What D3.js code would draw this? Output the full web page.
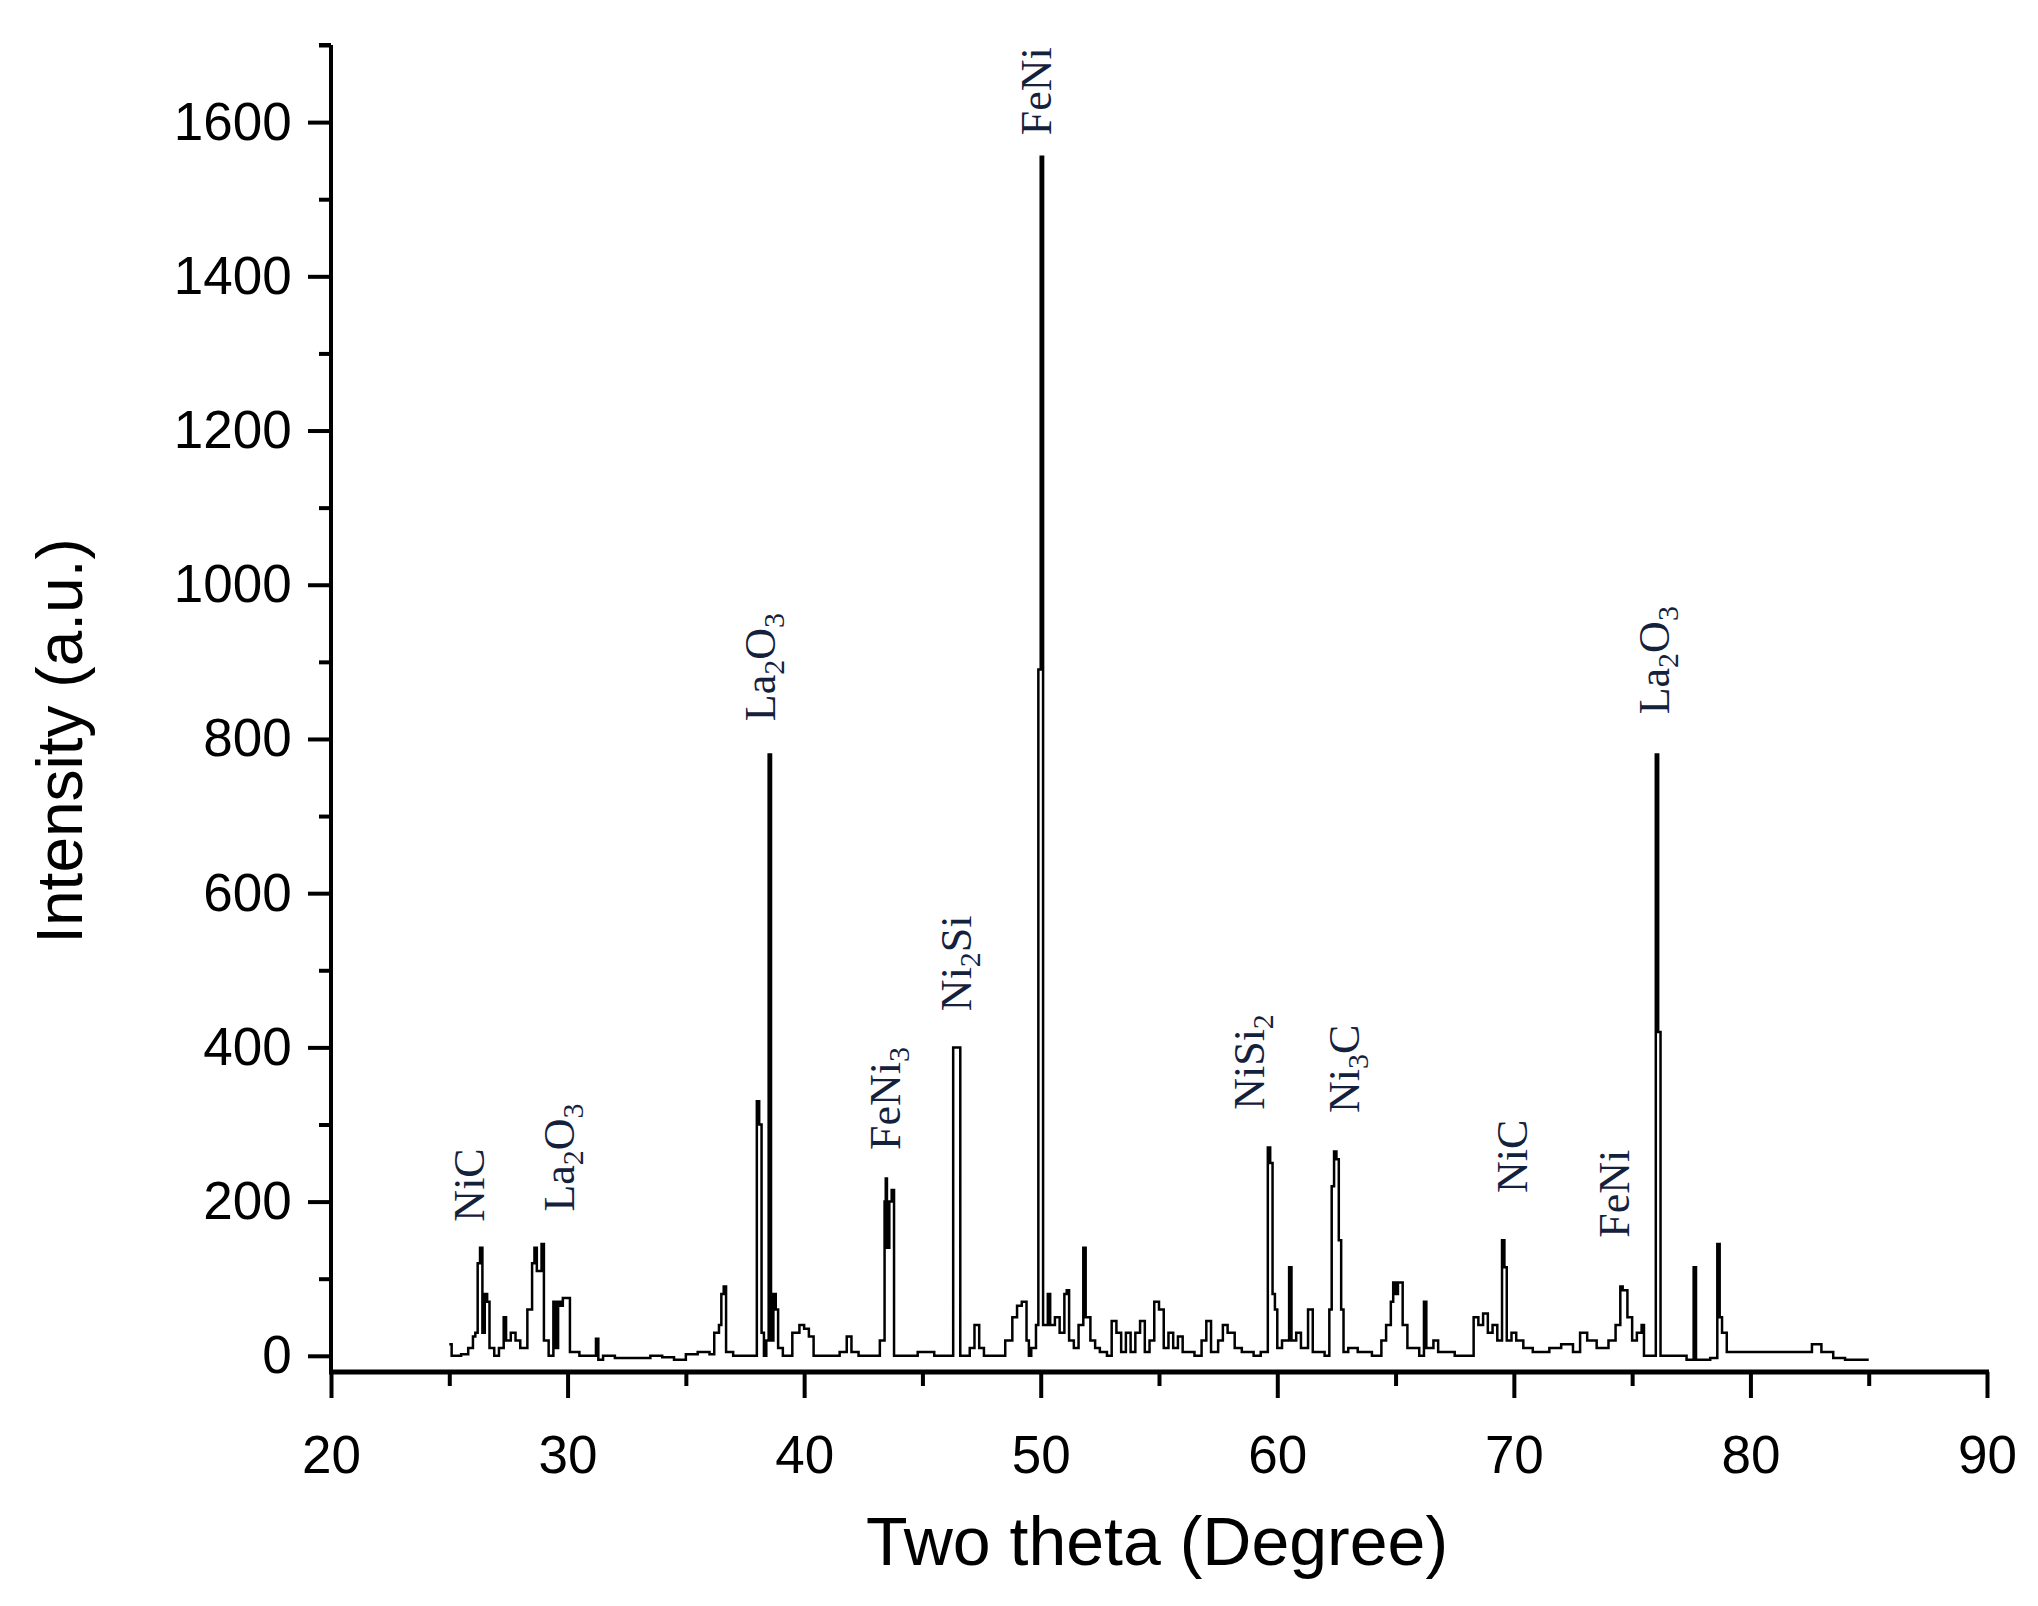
<!DOCTYPE html>
<html>
<head>
<meta charset="utf-8">
<script src="https://cdn.jsdelivr.net/npm/d3@7"></script>
<style>
  body { margin: 0; background: #fff; }
  svg { font-family: Arial, "Liberation Sans", sans-serif; }
</style>
</head>
<body>
<svg id="chart" width="2038" height="1606"></svg>
<script>
// two theta (deg) and intensity
const theta = [25.0,25.1,25.5,25.8,26.0,26.1,26.2,26.3,26.4,26.5,26.6,26.7,26.9,27.1,27.3,27.4,27.6,27.8,28.0,28.3,28.5,28.6,28.7,28.9,29.0,29.2,29.4,29.5,29.6,29.7,29.8,30.0,30.1,30.5,31.0,31.2,31.3,31.5,32.0,33.0,33.5,34.0,34.5,35.0,35.5,36.0,36.2,36.4,36.5,36.6,36.7,37.0,37.5,37.9,38.0,38.1,38.2,38.3,38.4,38.5,38.6,38.7,38.8,38.9,39.1,39.5,39.8,40.0,40.2,40.4,41.0,41.5,41.8,42.0,42.3,43.0,43.2,43.4,43.45,43.5,43.6,43.7,43.8,44.5,44.8,45.2,45.5,46.2,46.3,46.5,46.6,47.0,47.2,47.4,47.6,48.0,48.5,48.8,49.0,49.2,49.4,49.5,49.6,49.8,49.9,50.0,50.1,50.3,50.4,50.6,50.8,51.0,51.1,51.2,51.4,51.6,51.8,51.9,52.1,52.3,52.5,52.8,53.0,53.2,53.4,53.6,53.8,54.0,54.2,54.4,54.6,54.8,55.0,55.2,55.4,55.6,55.8,56.0,56.5,56.8,57.0,57.2,57.5,57.7,57.9,58.2,58.5,59.0,59.3,59.6,59.7,59.8,59.9,60.0,60.2,60.5,60.6,60.8,61.0,61.3,61.5,62.0,62.2,62.3,62.4,62.5,62.6,62.7,62.8,63.0,63.4,64.0,64.4,64.6,64.8,64.9,65.0,65.1,65.3,65.5,66.0,66.2,66.3,66.6,66.8,67.5,68.3,68.5,68.7,68.9,69.1,69.3,69.5,69.6,69.7,69.9,70.1,70.4,70.8,71.5,72.0,72.5,72.8,73.1,73.5,74.0,74.3,74.5,74.6,74.8,75.0,75.2,75.4,75.5,75.9,76.0,76.1,76.2,76.8,77.3,77.6,77.7,78.3,78.6,78.7,78.8,79.0,80.0,81.0,82.0,82.6,83.0,83.5,84.0,84.9,85.0];
const intensity = [15,0,2,10,25,30,120,140,30,80,70,10,0,10,50,20,30,20,10,60,120,140,110,145,20,0,70,10,70,65,75,75,5,0,0,22,-5,0,-3,-3,0,-2,-5,2,5,2,30,40,80,90,5,0,0,0,330,300,30,0,20,780,20,80,60,10,0,30,40,35,25,0,0,5,25,5,0,0,20,200,230,140,200,215,0,0,5,5,0,0,400,400,0,10,40,10,0,0,20,50,65,70,20,0,10,40,890,1555,40,80,40,50,30,80,85,20,10,40,140,50,20,10,5,0,45,30,5,30,5,30,45,5,20,70,60,10,30,10,25,5,0,20,45,5,20,40,30,10,5,0,5,270,250,80,60,10,20,115,20,30,10,60,5,0,60,220,265,255,150,60,5,10,5,0,20,40,70,95,80,95,40,10,0,70,10,20,5,0,50,40,55,30,40,20,150,115,20,30,20,10,5,10,15,5,30,20,10,20,40,90,85,50,20,30,40,0,0,780,420,0,0,-5,115,-5,-3,145,50,30,5,5,5,5,15,5,-3,-5,-5,-5,10];

// phase labels: name parts [text, isSub], position (deg, intensity at label bottom)
const labelNames = [
  [["NiC",0]],
  [["La",0],["2",1],["O",0],["3",1]],
  [["La",0],["2",1],["O",0],["3",1]],
  [["FeNi",0],["3",1]],
  [["Ni",0],["2",1],["Si",0]],
  [["FeNi",0]],
  [["NiSi",0],["2",1]],
  [["Ni",0],["3",1],["C",0]],
  [["NiC",0]],
  [["FeNi",0]],
  [["La",0],["2",1],["O",0],["3",1]]
];
const labelTheta = [25.8, 29.6, 38.1, 43.4, 46.4, 49.8, 58.8, 62.8, 69.9, 74.2, 75.9];
const labelY = [174, 187, 823, 267, 447, 1583, 319, 315, 211, 153, 832];

const xTicks = [20, 30, 40, 50, 60, 70, 80, 90];
const yTicks = [0, 200, 400, 600, 800, 1000, 1200, 1400, 1600];

const svg = d3.select('#chart');
const x = d3.scaleLinear().domain([20, 90]).range([331, 1987]);
const y = d3.scaleLinear().domain([-21, 1700]).range([1372, 45]);

// axes
const xAxis = d3.axisBottom(x).tickValues(d3.range(20, 91, 5)).tickSize(26)
  .tickFormat(d => xTicks.includes(d) ? d : '');
const gx = svg.append('g').attr('transform', `translate(0,${y(-21)})`).call(xAxis);
gx.selectAll('.tick line').attr('y2', d => xTicks.includes(d) ? 26 : 14);

const yAxis = d3.axisLeft(y).tickValues(d3.range(0, 1701, 100)).tickSize(23)
  .tickFormat(d => yTicks.includes(d) ? d : '');
const gy = svg.append('g').attr('transform', `translate(${x(20)},0)`).call(yAxis);
gy.selectAll('.tick line').attr('x2', d => yTicks.includes(d) ? -23 : -12);

[gx, gy].forEach(g => {
  g.select('.domain').remove();
  g.selectAll('.tick line').attr('stroke-width', 4);
  g.selectAll('.tick text').attr('font-size', 53).attr('fill', '#000')
    .attr('font-family', 'Arial, "Liberation Sans", sans-serif');
});
svg.append('line').attr('x1', x(20) - 2).attr('x2', x(90) + 2)
  .attr('y1', y(-21)).attr('y2', y(-21)).attr('stroke', '#000').attr('stroke-width', 5);
svg.append('line').attr('x1', x(20)).attr('x2', x(20))
  .attr('y1', y(-21)).attr('y2', y(1700)).attr('stroke', '#000').attr('stroke-width', 4);
svg.append('line').attr('x1', x(20) - 12).attr('x2', x(20))
  .attr('y1', y(1700)).attr('y2', y(1700)).attr('stroke', '#000').attr('stroke-width', 4);
gx.selectAll('.tick text').attr('dy', '1.35em');
gy.selectAll('.tick text').attr('dx', '-0.25em');

// pattern
const pts = theta.map((t, i) => [t, intensity[i]]);
svg.append('path').datum(pts)
  .attr('fill', 'none').attr('stroke', '#000').attr('stroke-width', 2.5)
  .attr('d', d3.line().x(d => x(d[0])).y(d => y(d[1])).curve(d3.curveStepAfter));

// phase labels
labelNames.forEach((parts, i) => {
  const px = x(labelTheta[i]), py = y(labelY[i]);
  const t = svg.append('text')
    .attr('transform', `translate(${px},${py}) rotate(-90)`)
    .attr('dy', '0.35em')
    .style('font-family', '"Liberation Serif", "DejaVu Serif", serif')
    .attr('font-size', 44).attr('fill', '#14213d');
  parts.forEach(([s, sub], j) => {
    const prevSub = j > 0 && parts[j - 1][1];
    t.append('tspan').text(s)
      .attr('font-size', sub ? 30 : 44)
      .attr('dy', sub ? 9 : (prevSub ? -9 : null));
  });
});

// axis titles
svg.append('text').attr('x', 1157).attr('y', 1565).attr('text-anchor', 'middle')
  .attr('font-size', 68).text('Two theta (Degree)');
svg.append('text').attr('transform', `translate(82,741) rotate(-90)`)
  .attr('text-anchor', 'middle').attr('font-size', 64).text('Intensity (a.u.)');
</script>
</body>
</html>
